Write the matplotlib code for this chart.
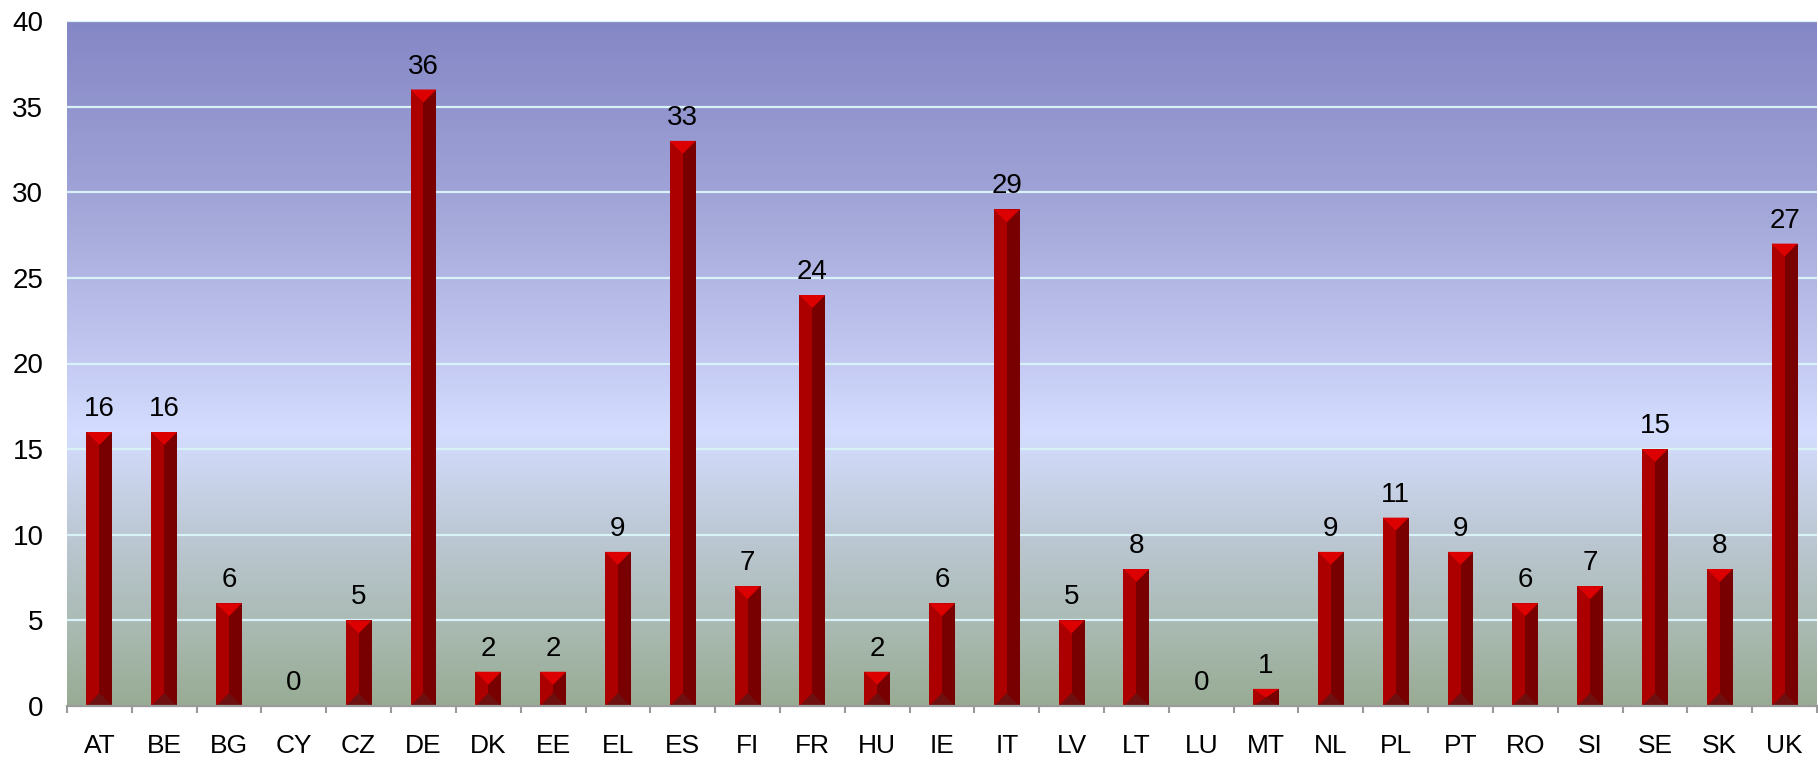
import numpy as np
import matplotlib
matplotlib.use("Agg")
import matplotlib.pyplot as plt
from matplotlib.colors import LinearSegmentedColormap
from matplotlib.patches import Polygon

countries = ["AT", "BE", "BG", "CY", "CZ", "DE", "DK", "EE", "EL", "ES", "FI", "FR", "HU", "IE",
             "IT", "LV", "LT", "LU", "MT", "NL", "PL", "PT", "RO", "SI", "SE", "SK", "UK"]
values = [16, 16, 6, 0, 5, 36, 2, 2, 9, 33, 7, 24, 2, 6, 29, 5, 8, 0, 1, 9, 11, 9, 6, 7, 15, 8, 27]
y_ticks = [0, 5, 10, 15, 20, 25, 30, 35, 40]

plt.rcParams['font.family'] = ['Liberation Sans', 'DejaVu Sans']

W, H, DPI = 1818, 762, 100
fig = plt.figure(figsize=(W / DPI, H / DPI), dpi=DPI)
ax = fig.add_axes([67 / W, 1 - 706 / H, (1817 - 67) / W, (706 - 21) / H])

n = len(countries)
ymax = 40
ax.set_xlim(-0.5, n - 0.5)
ax.set_ylim(0, ymax)

# background gradient
stops = [(0.0, "#98AC94"), (0.125, "#ABBBB5"), (0.25, "#BCC8D4"), (0.40, "#D4DDFF"),
         (0.5, "#C4CAF2"), (0.75, "#9FA3D6"), (1.0, "#8487C5")]
cmap = LinearSegmentedColormap.from_list("bg", stops)
grad = np.linspace(0, 1, 512).reshape(-1, 1)
ax.imshow(grad, cmap=cmap, origin="lower", aspect="auto",
          extent=[-0.5, n - 0.5, 0, ymax], zorder=0, interpolation="bicubic")

# gridlines
for t in y_ticks[1:]:
    ax.axhline(t, color="#D8F2F8", lw=1.6, zorder=1)

# bars with bevel
bw = 0.4
ax_w_px = (1817 - 67)
ax_h_px = (706 - 21)
half_px = bw / 2 * ax_w_px / n
depth_data = half_px * ymax / ax_h_px
for i, v in enumerate(values):
    if v <= 0:
        continue
    l, r, c = i - bw / 2, i + bw / 2, i
    d = min(depth_data, v / 2)
    ax.add_patch(Polygon([(l, 0), (c, 0), (c, v), (l, v)], closed=True, fc="#AC0000", ec="none", zorder=2))
    ax.add_patch(Polygon([(c, 0), (r, 0), (r, v), (c, v)], closed=True, fc="#780000", ec="none", zorder=2))
    ax.add_patch(Polygon([(l, v), (r, v), (c, v - d)], closed=True, fc="#DD0000", ec="none", zorder=3))
    ax.add_patch(Polygon([(l, 0), (r, 0), (c, d)], closed=True, fc="#6E1010", ec="none", zorder=3))

# value labels
for i, v in enumerate(values):
    ax.annotate(str(v), (i, v), xytext=(0, 11.5), textcoords="offset points",
                ha="center", va="baseline", fontsize=20, color="#000000", zorder=4)

# axes styling
for s in ["top", "right", "left"]:
    ax.spines[s].set_visible(False)
ax.spines["bottom"].set_color("#9A9A9A")
ax.spines["bottom"].set_linewidth(1.6)
ax.spines["bottom"].set_zorder(5)

ax.set_xticks(range(n))
ax.set_xticklabels(countries, fontsize=19)
ax.set_xticks(np.arange(-0.5, n, 1.0), minor=True)
ax.tick_params(axis="x", which="major", length=0, pad=20)
ax.tick_params(axis="x", which="minor", length=5, width=1.5, color="#9A9A9A", direction="out")

ax.set_yticks(y_ticks)
ax.set_yticklabels([str(t) for t in y_ticks], fontsize=20)
ax.tick_params(axis="y", length=0, pad=17)

fig.savefig("out.png", dpi=DPI)
